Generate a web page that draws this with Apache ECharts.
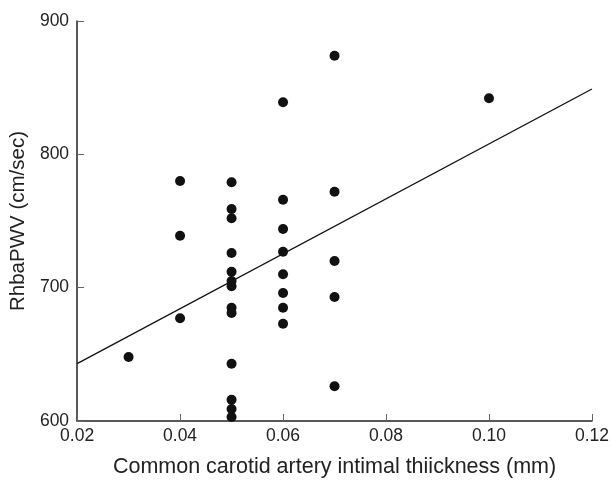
<!DOCTYPE html>
<html>
<head>
<meta charset="utf-8">
<script src="https://cdn.jsdelivr.net/npm/echarts@6/dist/echarts.min.js"></script>
<style>html,body{margin:0;padding:0;background:#fff}#c{width:612px;height:483px}</style>
</head>
<body>
<div id="c"></div>
<script>
var xValues = [0.03, 0.04, 0.04, 0.04,
  0.05, 0.05, 0.05, 0.05, 0.05, 0.05, 0.05, 0.05, 0.05, 0.05, 0.05, 0.05, 0.05,
  0.06, 0.06, 0.06, 0.06, 0.06, 0.06, 0.06, 0.06,
  0.07, 0.07, 0.07, 0.07, 0.07, 0.10];
var yValues = [648, 780, 739, 677,
  779, 759, 752, 726, 712, 705, 701, 685, 681, 643, 616, 609, 603,
  839, 766, 744, 727, 710, 696, 685, 673,
  874, 772, 720, 693, 626, 842];
var fitX = [0.02, 0.12];
var fitY = [643, 849];
var xTicks = [0.02, 0.04, 0.06, 0.08, 0.10, 0.12];
var yTicks = [600, 700, 800, 900];

var points = xValues.map(function (x, i) { return [x, yValues[i]]; });
var fit = fitX.map(function (x, i) { return [x, fitY[i]]; });

var font = 'Liberation Sans, Arial, Helvetica, sans-serif';
var chart = echarts.init(document.getElementById('c'), null, {renderer: 'canvas'});
chart.setOption({
  animation: false,
  backgroundColor: '#fff',
  grid: {left: 77, right: 17, top: 21, bottom: 59, containLabel: false},
  xAxis: {
    type: 'value', min: 0.02, max: 0.12, interval: 0.02,
    splitLine: {show: false},
    axisLine: {show: true, lineStyle: {color: '#222', width: 1.5}},
    axisTick: {show: true, inside: true, length: 7, lineStyle: {color: '#666', width: 1}},
    axisLabel: {color: '#222', fontFamily: font, fontSize: 17.5, margin: 6,
      formatter: function (v) { var s = v.toFixed(2); return xTicks.some(function(t){return Math.abs(t-v)<1e-9;}) ? s : ''; }},
    name: 'Common carotid artery intimal thiickness (mm)',
    nameLocation: 'middle', nameGap: 35,
    nameTextStyle: {color: '#222', fontFamily: font, fontSize: 21.5}
  },
  yAxis: {
    type: 'value', min: 600, max: 900, interval: 100,
    splitLine: {show: false},
    axisLine: {show: true, lineStyle: {color: '#222', width: 1.5}},
    axisTick: {show: true, inside: true, length: 7, lineStyle: {color: '#666', width: 1}},
    axisLabel: {color: '#222', fontFamily: font, fontSize: 17.5, margin: 8,
      formatter: function (v) { return yTicks.indexOf(v) >= 0 ? String(v) : ''; }},
    name: 'RhbaPWV (cm/sec)',
    nameLocation: 'middle', nameGap: 45,
    nameTextStyle: {color: '#222', fontFamily: font, fontSize: 20.5}
  },
  series: [
    {type: 'line', data: fit, showSymbol: false, symbol: 'none',
      lineStyle: {color: '#111', width: 1.3}, silent: true, z: 1},
    {type: 'scatter', data: points, symbol: 'circle', symbolSize: 10,
      itemStyle: {color: '#111', opacity: 1}, z: 2}
  ]
});
</script>
</body>
</html>
